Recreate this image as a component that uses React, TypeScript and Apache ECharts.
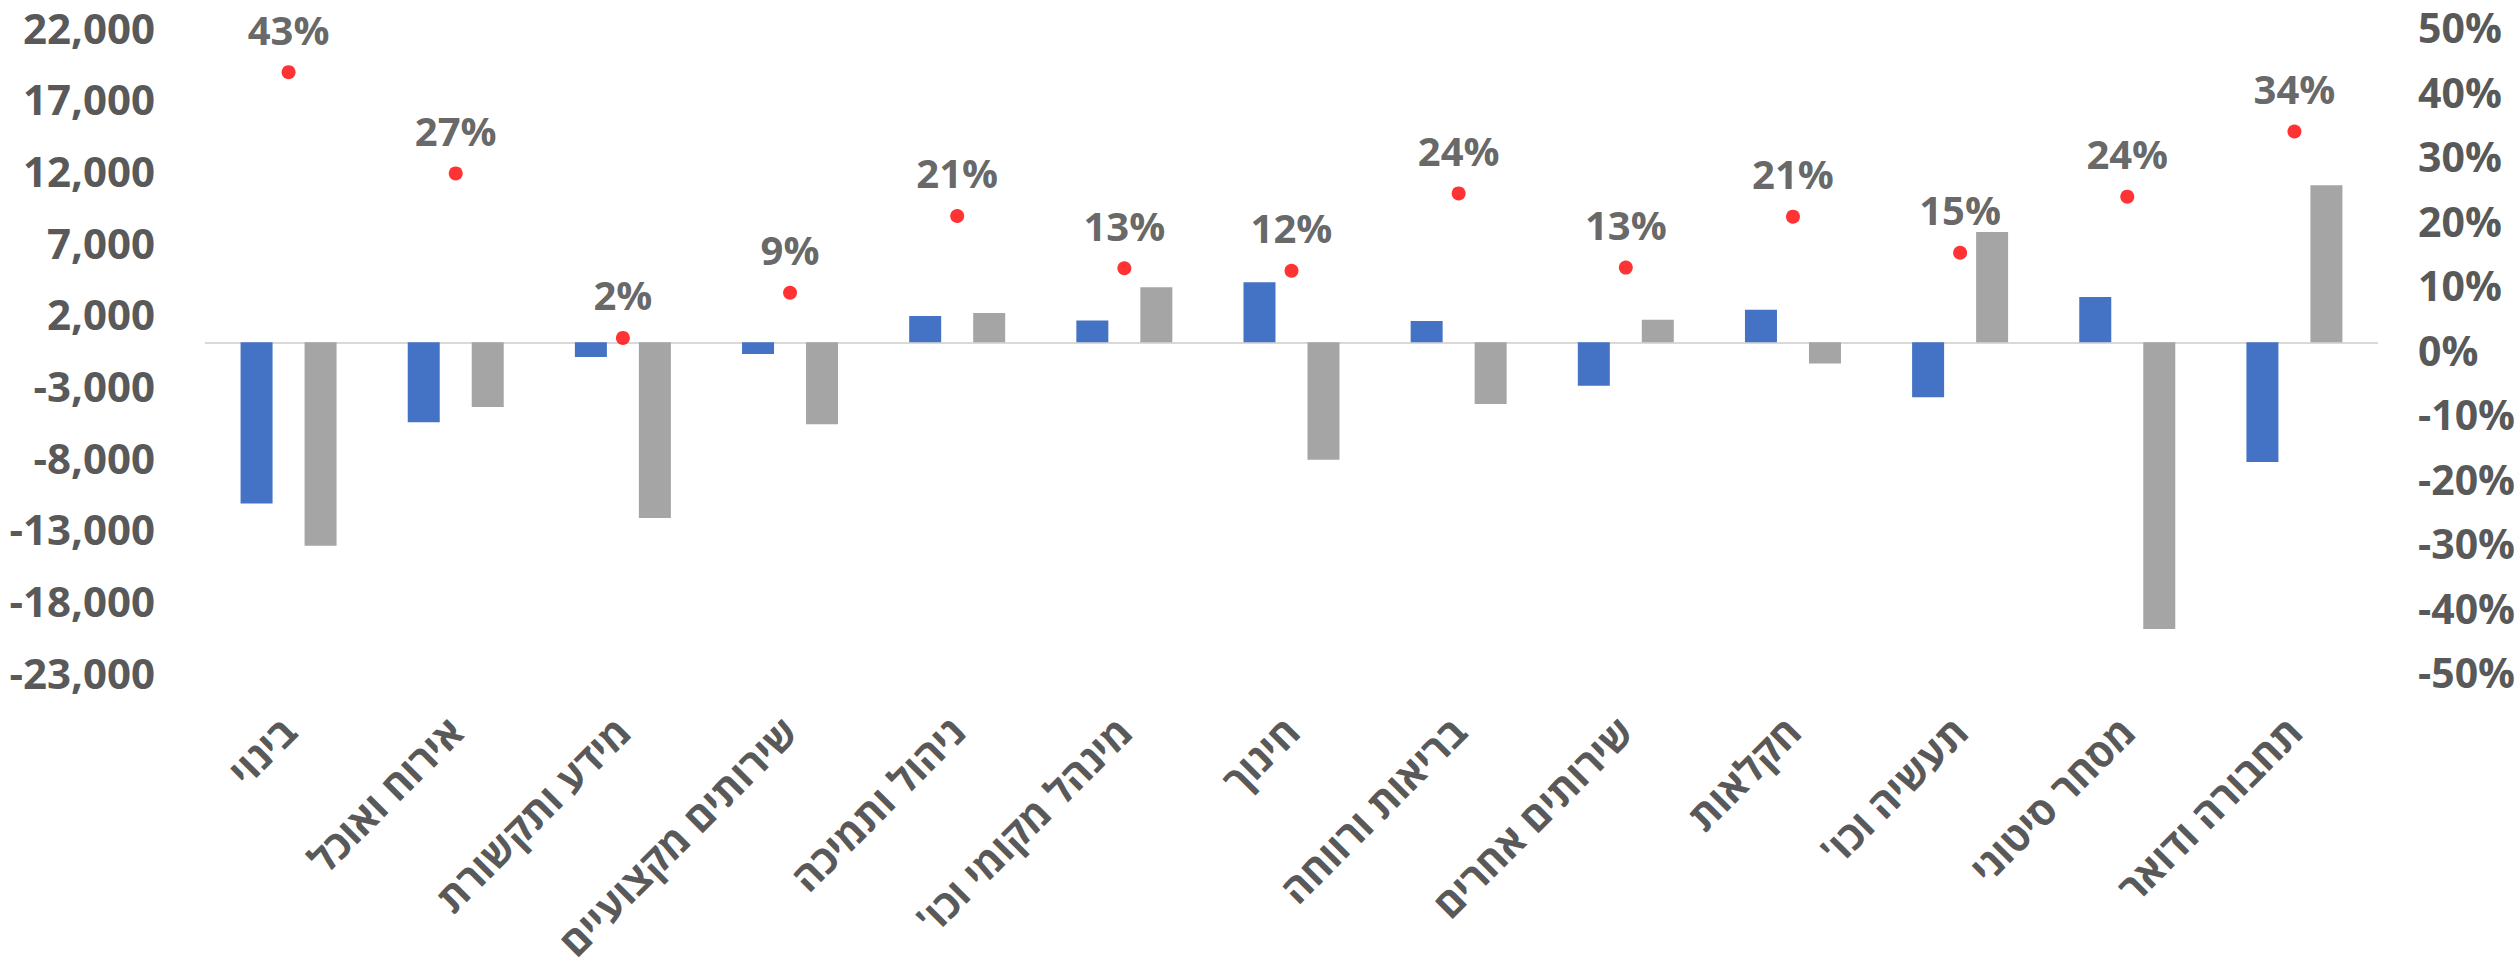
import React, { useEffect, useRef } from "react";
import * as echarts from "echarts";

const RLM = "\u200F";

const categories = [
  "בינוי",
  "אירוח ואוכל",
  "מידע ותקשורת",
  "שירותים מקצועיים",
  "ניהול ותמיכה",
  "מינהל מקומי וכו'" + RLM,
  "חינוך",
  "בריאות ורווחה",
  "שירותים אחרים",
  "חקלאות",
  "תעשיה וכו'" + RLM,
  "מסחר סיטוני",
  "תחבורה ודואר",
];

const blueValues = [-11250, -5580, -1030, -820, 1830, 1520, 4200, 1490, -3030, 2270, -3840, 3170, -8350];
const grayValues = [-14200, -4520, -12250, -5710, 2050, 3850, -8200, -4310, 1580, -1470, 7690, -20000, 10960];
const shareValues = [0.43, 0.273, 0.018, 0.088, 0.207, 0.126, 0.122, 0.242, 0.127, 0.206, 0.15, 0.237, 0.338];

const leftMin = -23000;
const leftMax = 22000;
const leftStep = 5000;
const rightMin = -0.5;
const rightMax = 0.5;
const rightStep = 0.1;

const FONT = "'Open Sans', 'Noto Sans', 'DejaVu Sans', sans-serif";

export default function App() {
  const ref = useRef<HTMLDivElement>(null);

  useEffect(() => {
    document.body.style.margin = "0";
    if (!ref.current) return;
    const chart = echarts.init(ref.current, undefined, { renderer: "svg" });
    chart.setOption({
      animation: false,
      backgroundColor: "#ffffff",
      textStyle: { fontFamily: FONT },
      grid: { left: 205, right: 141, top: 27, bottom: 296, containLabel: false },
      xAxis: {
        type: "category",
        data: categories,
        axisLine: { show: false, onZero: false },
        axisTick: { show: false },
        splitLine: { show: false },
        axisLabel: {
          interval: 0,
          rotate: 45,
          margin: 52,
          fontSize: 40,
          fontWeight: "bold",
          color: "#595959",
          fontFamily: FONT,
        },
      },
      yAxis: [
        {
          type: "value",
          min: leftMin,
          max: leftMax,
          interval: leftStep,
          axisLine: { show: false },
          axisTick: { show: false },
          splitLine: { show: false },
          axisLabel: {
            margin: 50,
            fontSize: 42,
            fontWeight: "bold",
            color: "#595959",
            fontFamily: FONT,
            formatter: (v: number) => Math.round(v).toLocaleString("en-US"),
          },
        },
        {
          type: "value",
          position: "right",
          min: rightMin,
          max: rightMax,
          interval: rightStep,
          axisLine: { show: false },
          axisTick: { show: false },
          splitLine: { show: false },
          axisLabel: {
            margin: 40,
            fontSize: 41,
            fontWeight: "bold",
            color: "#595959",
            fontFamily: FONT,
            formatter: (v: number) => Math.round(v * 100) + "%",
          },
        },
      ],
      series: [
        {
          type: "bar",
          data: blueValues,
          barWidth: 32,
          barGap: "100%",
          itemStyle: { color: "#4472C4" },
          markLine: {
            silent: true,
            symbol: "none",
            label: { show: false },
            lineStyle: { color: "#D9D9D9", width: 2, type: "solid" },
            data: [{ yAxis: 0 }],
            z: 1,
          },
          z: 2,
        },
        {
          type: "bar",
          data: grayValues,
          barWidth: 32,
          itemStyle: { color: "#A5A5A5" },
          z: 2,
        },
        {
          type: "scatter",
          yAxisIndex: 1,
          data: shareValues,
          symbol: "circle",
          symbolSize: 14,
          itemStyle: { color: "#FF0000" },
          label: {
            show: true,
            position: "top",
            distance: 16,
            fontSize: 40,
            fontWeight: "bold",
            color: "#404040",
            fontFamily: FONT,
            formatter: (p: any) => Math.round(p.value * 100) + "%",
          },
          z: 3,
        },
      ],
    });
    return () => chart.dispose();
  }, []);

  return <div ref={ref} style={{ width: 2519, height: 968 }} />;
}
